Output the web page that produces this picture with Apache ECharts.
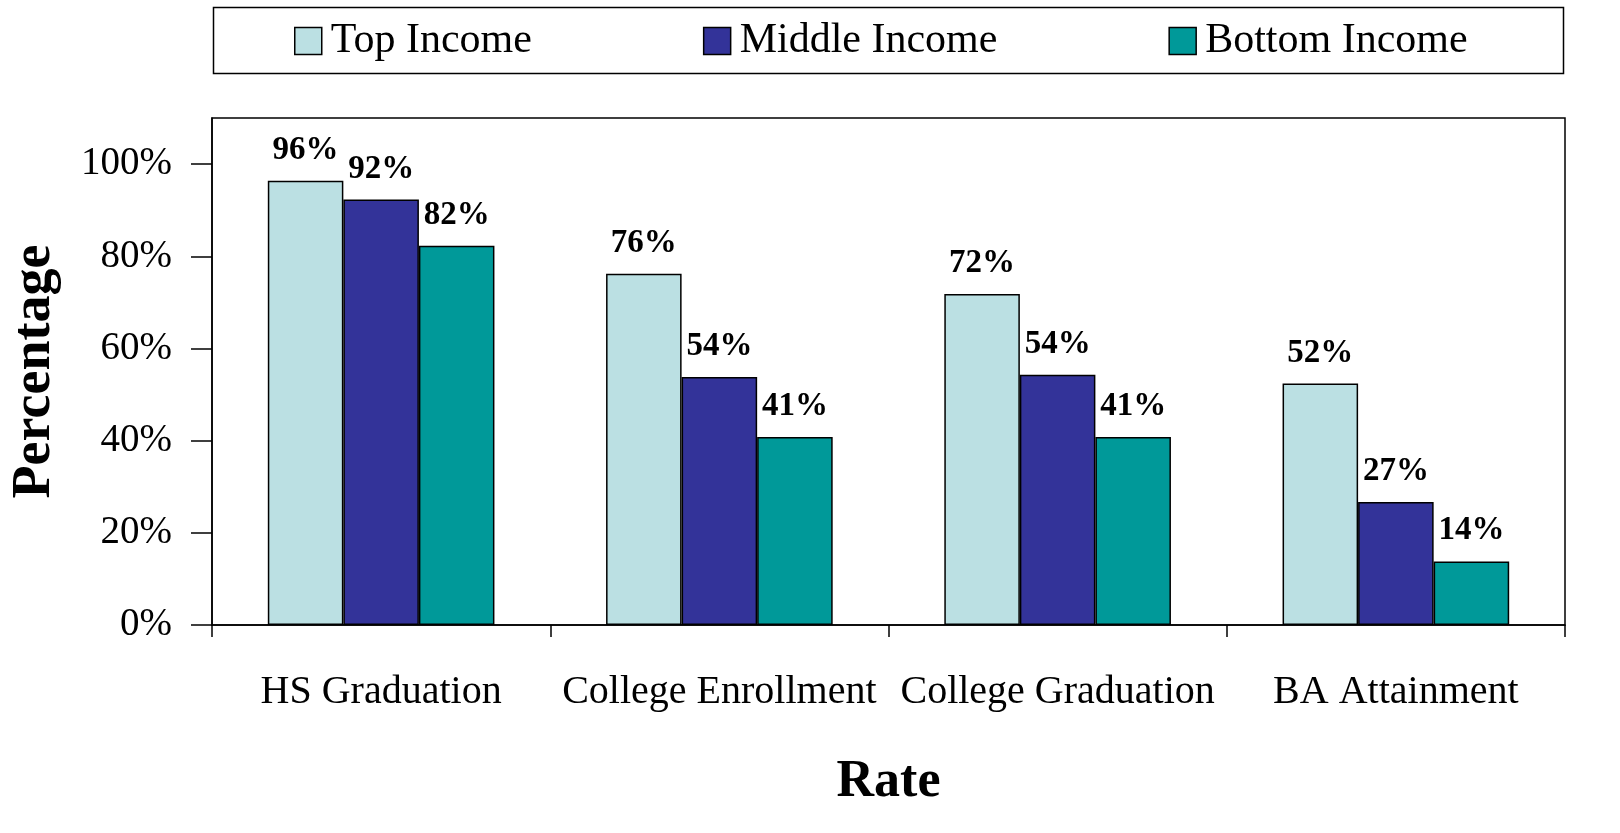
<!DOCTYPE html>
<html>
<head>
<meta charset="utf-8">
<script src="https://cdn.jsdelivr.net/npm/echarts@6/dist/echarts.min.js"></script>
<style>html,body{margin:0;padding:0;background:#fff}#c{width:1620px;height:833px}</style>
</head>
<body>
<div id="c"></div>
<script>
const categories = ['HS Graduation', 'College Enrollment', 'College Graduation', 'BA Attainment'];
const seriesNames = ['Top Income', 'Middle Income', 'Bottom Income'];
const topIncome = [96.4, 76.2, 71.8, 52.4];
const middleIncome = [92.3, 53.8, 54.3, 26.7];
const bottomIncome = [82.3, 40.8, 40.8, 13.8];
const yTicks = [0, 20, 40, 60, 80, 100];

const FONT = '"Liberation Serif", "DejaVu Serif", serif';
const colors = ['#BBE0E3', '#333399', '#009999'];

const chart = echarts.init(document.getElementById('c'), null, {renderer: 'canvas'});
const mk = (name, data, i) => ({
  name, type: 'bar', data,
  barGap: '0%', barCategoryGap: '33%',
  itemStyle: {color: colors[i], borderColor: '#000', borderWidth: 1.5},
  label: {
    show: true, position: 'top', distance: 14,
    formatter: p => Math.round(p.value) + '%',
    fontFamily: FONT, fontWeight: 'bold', fontSize: 33, color: '#000'
  }
});
chart.setOption({
  animation: false,
  backgroundColor: '#fff',
  graphic: [{
    type: 'rect', left: 211, top: 5,
    shape: {width: 1350, height: 66},
    style: {fill: 'none', stroke: '#000', lineWidth: 1.5}
  }],
  legend: {
    data: seriesNames, top: 20, left: 294, padding: 0,
    icon: 'rect',
    itemWidth: 27, itemHeight: 27, itemGap: 171,
    textStyle: {fontFamily: FONT, fontSize: 42, color: '#000', padding: [4, 0, 0, 4]},
    itemStyle: {borderColor: '#000', borderWidth: 1.5}
  },
  grid: {left: 211, right: 55, top: 118, bottom: 208, show: true, borderColor: '#000', borderWidth: 1.5, backgroundColor: 'transparent'},
  xAxis: {
    type: 'category', data: categories,
    axisLine: {lineStyle: {color: '#000', width: 1.5}},
    axisTick: {show: true, length: 12, lineStyle: {color: '#000', width: 1.5}},
    axisLabel: {fontFamily: FONT, fontSize: 40, color: '#000', margin: 47, interval: 0},
    name: 'Rate', nameLocation: 'middle', nameGap: 132,
    nameTextStyle: {fontFamily: FONT, fontSize: 52, fontWeight: 'bold', color: '#000'}
  },
  yAxis: {
    type: 'value', min: 0, max: 110, interval: 20,
    axisLine: {show: true, lineStyle: {color: '#000', width: 1.5}},
    axisTick: {show: true, length: 21, customValues: yTicks, lineStyle: {color: '#000', width: 1.5}},
    axisLabel: {fontFamily: FONT, fontSize: 39, color: '#000', margin: 40, customValues: yTicks, formatter: v => v + '%'},
    splitLine: {show: false},
    name: 'Percentage', nameLocation: 'middle', nameGap: 150, nameRotate: 90,
    nameTextStyle: {fontFamily: FONT, fontSize: 54, fontWeight: 'bold', color: '#000'}
  },
  series: [mk(seriesNames[0], topIncome, 0), mk(seriesNames[1], middleIncome, 1), mk(seriesNames[2], bottomIncome, 2)]
});
</script>
</body>
</html>
